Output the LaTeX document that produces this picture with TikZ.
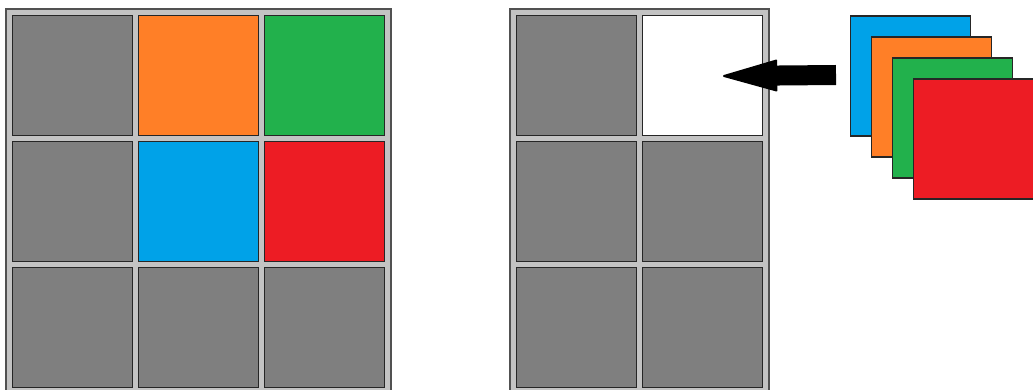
\documentclass[tikz,border=0pt]{standalone}
\usetikzlibrary{arrows.meta}
\definecolor{cgray}{HTML}{7F7F7F}
\definecolor{cframe}{HTML}{C3C3C3}
\definecolor{cline}{HTML}{262626}
\definecolor{corange}{HTML}{FF7F27}
\definecolor{cgreen}{HTML}{22B14C}
\definecolor{cblue}{HTML}{00A2E8}
\definecolor{cred}{HTML}{ED1C24}
\tikzset{
  cell/.style={draw=cline, line width=1.5pt, minimum size=120pt, inner sep=0pt, fill=cgray},
  frame/.style={draw=cline!80, line width=1.5pt, fill=cframe},
  card/.style={draw=cline, line width=1.5pt, minimum size=120pt, inner sep=0pt},
  bigarrow/.style={line width=20pt, -{Triangle[length=57pt 0 0,width=32pt 0 0,line width=2pt,round]}}
}
\begin{document}
\begin{tikzpicture}[x=1pt,y=-1pt]
\useasboundingbox (0,0) rectangle (1033,390);
\clip (0,0) rectangle (1033,390);
% left grid
\draw[frame] (6,9) rectangle (391,396);
\node[cell] (a11) at (72.5,75.5) {};
\node[cell, fill=corange] (a12) at (198.5,75.5) {};
\node[cell, fill=cgreen] (a13) at (324.5,75.5) {};
\node[cell] (a21) at (72.5,201.5) {};
\node[cell, fill=cblue] (a22) at (198.5,201.5) {};
\node[cell, fill=cred] (a23) at (324.5,201.5) {};
\node[cell] (a31) at (72.5,327.5) {};
\node[cell] (a32) at (198.5,327.5) {};
\node[cell] (a33) at (324.5,327.5) {};
% right grid
\draw[frame] (510,9) rectangle (769,396);
\node[cell] (b11) at (576.5,75.5) {};
\node[cell, fill=white] (b12) at (702.5,75.5) {};
\node[cell] (b21) at (576.5,201.5) {};
\node[cell] (b22) at (702.5,201.5) {};
\node[cell] (b31) at (576.5,327.5) {};
\node[cell] (b32) at (702.5,327.5) {};
% stack of cards
\node[card, fill=cblue] (s1) at (910.5,76) {};
\node[card, fill=corange] (s2) at (931.5,97) {};
\node[card, fill=cgreen] (s3) at (952.5,118) {};
\node[card, fill=cred] (s4) at (973.5,139) {};
% arrow
\coordinate (tail) at (836,75);
\draw[bigarrow] (tail) -- ([xshift=20.5pt,yshift=-0.5pt]b12.center);
\end{tikzpicture}
\end{document}
